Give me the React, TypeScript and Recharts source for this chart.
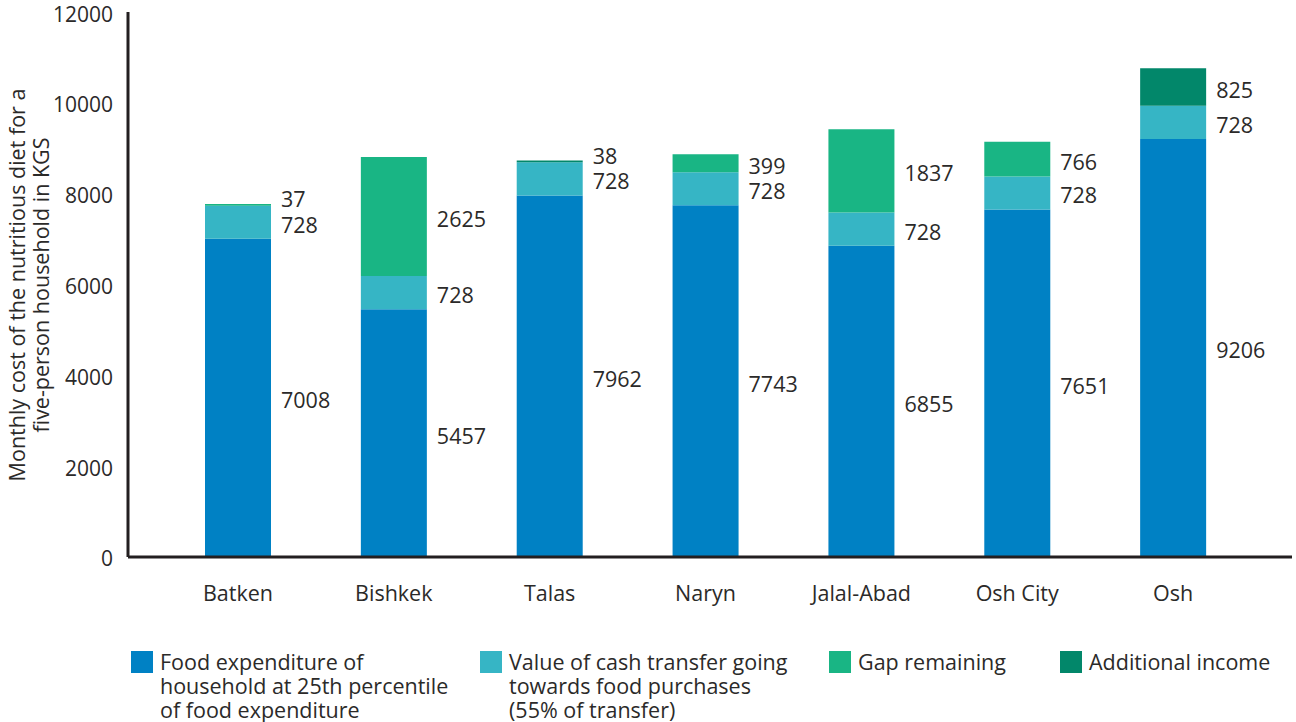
import { Bar, BarChart, LabelList, XAxis, YAxis } from 'recharts'

const regions = ['Batken', 'Bishkek', 'Talas', 'Naryn', 'Jalal-Abad', 'Osh City', 'Osh']
const foodExpenditure = [7008, 5457, 7962, 7743, 6855, 7651, 9206]
const cashTransfer = [728, 728, 728, 728, 728, 728, 728]
const gapRemaining = [37, 2625, 0, 399, 1837, 766, 0]
const additionalIncome = [0, 0, 38, 0, 0, 0, 825]
const yTicks = [0, 2000, 4000, 6000, 8000, 10000, 12000]

const FONT = '"Open Sans", "Noto Sans", sans-serif'
const TEXT = '#2b2a29'
const FS = 21.5

const SERIES = [
  { key: 'food', color: '#0081c4', label: ['Food expenditure of', 'household at 25th percentile', 'of food expenditure'], left: 131 },
  { key: 'cash', color: '#36b5c5', label: ['Value of cash transfer going', 'towards food purchases', '(55% of transfer)'], left: 480 },
  { key: 'gap', color: '#19b584', label: ['Gap remaining'], left: 829 },
  { key: 'extra', color: '#02876a', label: ['Additional income'], left: 1060 },
]

const data = regions.map((name, i) => ({
  name,
  food: foodExpenditure[i],
  cash: cashTransfer[i],
  gap: gapRemaining[i],
  extra: additionalIncome[i],
}))

interface ValueLabelProps {
  x?: number | string
  y?: number | string
  width?: number | string
  height?: number | string
  value?: number | string
}

function renderValue(props: ValueLabelProps) {
  const value = Number(props.value)
  if (!value) return null
  const x = Number(props.x) + Number(props.width) + 10
  const h = Number(props.height)
  const y = Number(props.y) + h / 2 + (h < 12 ? -6 : 2)
  return (
    <text x={x} y={y} fill={TEXT} fontSize={FS} fontFamily={FONT} dominantBaseline="central">
      {value}
    </text>
  )
}

function AxisTitle() {
  return (
    <text transform="translate(30, 285) rotate(-90)" textAnchor="middle" fill={TEXT} fontSize={FS} fontFamily={FONT}>
      <tspan x={0} dy={-5}>Monthly cost of the nutritious diet for a</tspan>
      <tspan x={0} dy={24}>five-person household in KGS</tspan>
    </text>
  )
}

export default function App() {
  return (
    <div style={{ position: 'absolute', top: 0, left: 0, width: 1296, height: 722, background: '#fff', fontFamily: FONT }}>
      <BarChart width={1296} height={722} data={data} margin={{ top: 12, right: 4, left: 0, bottom: 135 }}>
        <XAxis
          dataKey="name"
          padding={{ left: 32, right: 41 }}
          axisLine={{ stroke: '#231f20', strokeWidth: 3 }}
          tickLine={false}
          tickSize={6}
          tickMargin={23}
          height={30}
          tick={{ fill: TEXT, fontSize: FS, fontFamily: FONT }}
        />
        <YAxis
          type="number"
          domain={[0, 12000]}
          ticks={yTicks}
          width={128}
          axisLine={{ stroke: '#231f20', strokeWidth: 3 }}
          tickLine={false}
          tickSize={6}
          tickMargin={9}
          tick={{ fill: TEXT, fontSize: 21, fontFamily: FONT, dy: 2 }}
          label={{ content: () => <AxisTitle /> }}
        />
        {SERIES.map((s) => (
          <Bar key={s.key} dataKey={s.key} stackId="a" fill={s.color} barSize={66} isAnimationActive={false}>
            <LabelList dataKey={s.key} content={renderValue} />
          </Bar>
        ))}
      </BarChart>
      {SERIES.map((s) => (
        <div key={s.key} style={{ position: 'absolute', left: s.left, top: 651, display: 'flex', alignItems: 'flex-start' }}>
          <div style={{ width: 22, height: 22, background: s.color, flex: 'none' }} />
          <div style={{ marginLeft: 7, marginTop: -1, fontSize: FS, lineHeight: '24px', color: TEXT, whiteSpace: 'nowrap' }}>
            {s.label.map((line) => (
              <div key={line}>{line}</div>
            ))}
          </div>
        </div>
      ))}
    </div>
  )
}
